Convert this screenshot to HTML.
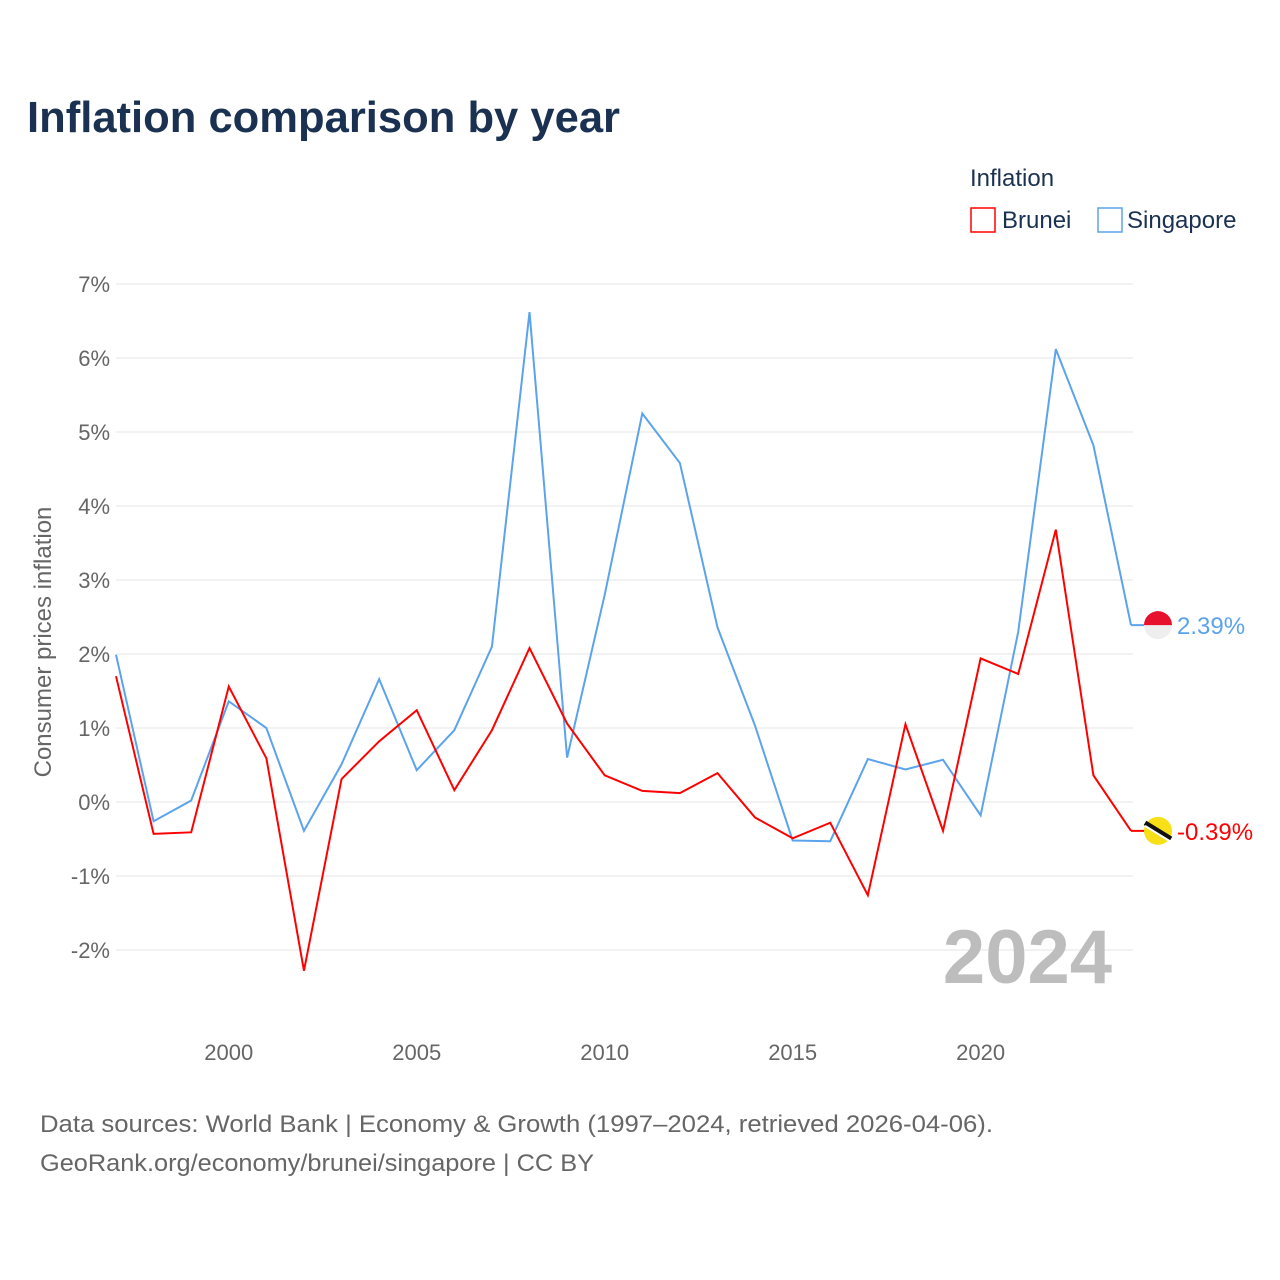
<!DOCTYPE html>
<html><head><meta charset="utf-8"><style>
body{margin:0;background:#fff;font-family:"Liberation Sans",sans-serif;}
#wrap{position:relative;width:1280px;height:1280px;overflow:hidden;}
</style></head><body>
<div id="wrap">
<svg id="chart" width="1280" height="1280">
<text x="27" y="132" font-size="44" font-weight="bold" fill="#1b3152" textLength="593" lengthAdjust="spacingAndGlyphs">Inflation comparison by year</text>
<text x="970" y="186" font-size="24" fill="#1b3152">Inflation</text>
<g><rect x="971" y="208" width="24" height="24" fill="none" stroke="#ff0000" stroke-width="1.5"/><text x="1002" y="228" font-size="24" fill="#1b3152">Brunei</text></g>
<g><rect x="1098" y="208" width="24" height="24" fill="none" stroke="#5ba3ec" stroke-width="1.5"/><text x="1127" y="228" font-size="24" fill="#1b3152">Singapore</text></g>
<g id="grid"></g>
<g id="series"></g>
<text x="1112" y="983" font-size="76" font-weight="bold" fill="#bdbdbd" text-anchor="end">2024</text>
<text transform="translate(51,642) rotate(-90)" font-size="24" fill="#666" text-anchor="middle">Consumer prices inflation</text>
<text x="40" y="1132" font-size="24" fill="#666" textLength="953" lengthAdjust="spacingAndGlyphs">Data sources: World Bank | Economy &amp; Growth (1997–2024, retrieved 2026-04-06).</text>
<text x="40" y="1171" font-size="24" fill="#666" textLength="554" lengthAdjust="spacingAndGlyphs">GeoRank.org/economy/brunei/singapore | CC BY</text>
</svg>
</div>
<script>
const years=[1997,1998,1999,2000,2001,2002,2003,2004,2005,2006,2007,2008,2009,2010,2011,2012,2013,2014,2015,2016,2017,2018,2019,2020,2021,2022,2023,2024];
const singapore=[1.99,-0.26,0.02,1.36,1.0,-0.39,0.51,1.66,0.43,0.97,2.1,6.62,0.6,2.8,5.25,4.58,2.36,1.03,-0.52,-0.53,0.58,0.44,0.57,-0.18,2.3,6.12,4.82,2.39];
const brunei=[1.7,-0.43,-0.41,1.56,0.59,-2.28,0.31,0.82,1.24,0.16,0.97,2.08,1.06,0.36,0.15,0.12,0.39,-0.21,-0.49,-0.28,-1.26,1.05,-0.39,1.94,1.73,3.68,0.36,-0.39];
const yTicks=[-2,-1,0,1,2,3,4,5,6,7];
const xTicks=[2000,2005,2010,2015,2020];
const NS="http://www.w3.org/2000/svg";
const x=v=>116+(v-1997)*(1131-116)/27;
const y=v=>802-v*74;
function mk(tag,attrs,parent,txt){const e=document.createElementNS(NS,tag);for(const k in attrs)e.setAttribute(k,attrs[k]);if(txt!==undefined)e.textContent=txt;parent.appendChild(e);return e;}
const grid=document.getElementById('grid');
yTicks.forEach(t=>{
 const l=mk('line',{x1:116,x2:1133,y1:y(t),y2:y(t),stroke:'#e6e6e6','stroke-width':1},grid);
 
 
 const tx=mk('text',{x:110,y:y(t)+8,'font-size':22,fill:'#666','text-anchor':'end'},grid,t+'%');
 
 
});
xTicks.forEach(t=>{
 const tx=mk('text',{x:x(t),y:1060,'font-size':22,fill:'#666','text-anchor':'middle'},grid,String(t));
 
 
});
const ser=document.getElementById('series');
function line(vals,color,name){
 const p=mk('polyline',{points:vals.map((v,i)=>x(years[i])+','+y(v)).join(' '),fill:'none',stroke:color,'stroke-width':2,'stroke-linejoin':'miter'},ser);
 
 
 const last=vals[vals.length-1];
 const ly=y(last);
 mk('line',{x1:x(2024),x2:1150,y1:ly,y2:ly,stroke:color,'stroke-width':2},ser);
 return ly;
}
const sy=line(singapore,'#5ba3ec','singapore-line');
const by=line(brunei,'#ff0000','brunei-line');
const fs=mk('g',{},ser);


mk('circle',{cx:1158,cy:sy,r:14,fill:'#eeeeee'},fs);
mk('path',{d:`M1144 ${sy} A14 14 0 0 1 1172 ${sy} Z`,fill:'#e8112d'},fs);
const fb=mk('g',{},ser);


mk('circle',{cx:1158,cy:by,r:14,fill:'#f7e017'},fb);
mk('line',{x1:1145,y1:by-8,x2:1171,y2:by+8,stroke:'#111','stroke-width':5},fb);
mk('line',{x1:1145,y1:by-5,x2:1171,y2:by+11,stroke:'#fff','stroke-width':2},fb);
const ls=mk('text',{x:1177,y:sy+9,'font-size':24,fill:'#5ba3ec'},ser,singapore[singapore.length-1].toFixed(2)+'%');


const lb=mk('text',{x:1177,y:by+9,'font-size':24,fill:'#ff0000'},ser,brunei[brunei.length-1].toFixed(2)+'%');


</script>
</body></html>
